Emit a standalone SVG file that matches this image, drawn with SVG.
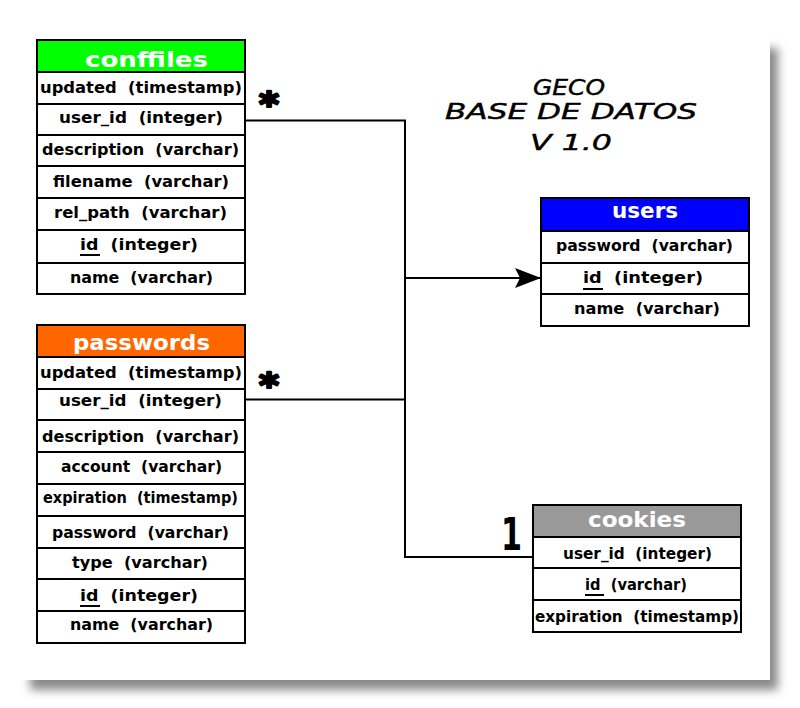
<svg xmlns="http://www.w3.org/2000/svg" width="800" height="708" viewBox="0 0 800 708" xml:space="preserve">
<style>
text{white-space:pre}
.box{fill:#fff;stroke:#000;stroke-width:2}
.sep{stroke:#000;stroke-width:2}
.t{font-family:"DejaVu Sans","Liberation Sans",sans-serif;font-weight:bold;font-size:16px;fill:#000}
.h{font-family:"DejaVu Sans","Liberation Sans",sans-serif;font-weight:bold;font-size:22px;fill:#fff}
.ul{stroke:#000;stroke-width:2}
.title{font-family:"DejaVu Sans","Liberation Sans",sans-serif;font-style:italic;font-size:21px;fill:#000;stroke:#000;stroke-width:0.4}
.conn{fill:none;stroke:#000;stroke-width:2}
.card{font-family:"DejaVu Sans","Liberation Sans",sans-serif;font-weight:bold;fill:#000}
.star{stroke:#000;stroke-width:2.5;stroke-linejoin:round}
</style>
<defs>
<filter id="sh" x="-10%" y="-10%" width="120%" height="120%"><feGaussianBlur stdDeviation="5"/></filter>
<marker id="arr" markerUnits="userSpaceOnUse" viewBox="0 0 26 20" refX="26" refY="10" markerWidth="26" markerHeight="20" orient="auto"><path d="M0,0 L26,10 L0,20 L5,10 Z" fill="#000"/></marker>
</defs>
<rect width="800" height="708" fill="#fff"/>
<rect x="30" y="48" width="748" height="642" fill="#8a8a8a" filter="url(#sh)"/>
<rect x="0" y="0" width="770" height="680" fill="#fff"/>

<g id="title">
<text class="title" x="533" y="95" textLength="72" lengthAdjust="spacingAndGlyphs">GECO</text>
<text class="title" x="445" y="119" textLength="252" lengthAdjust="spacingAndGlyphs">BASE DE DATOS</text>
<text class="title" x="530" y="150" textLength="82" lengthAdjust="spacingAndGlyphs">V 1.0</text>
</g>

<g id="connectors">
<path class="conn" d="M245,120.5 H405 V557 H533"/>
<path class="conn" d="M245,399.5 H405"/>
<path class="conn" d="M405,278 H541" marker-end="url(#arr)"/>
<text class="card star" x="259" y="116" font-size="34" textLength="20" lengthAdjust="spacingAndGlyphs">*</text>
<text class="card star" x="259" y="397" font-size="34" textLength="20" lengthAdjust="spacingAndGlyphs">*</text>
<text class="card" x="501" y="550" font-size="44" textLength="21" lengthAdjust="spacingAndGlyphs">1</text>
</g>

<g id="conffiles">
<rect x="37" y="40" width="208" height="32" fill="#00ff00" stroke="#000" stroke-width="2"/>
<rect class="box" x="37" y="72" width="208" height="222"/>
<path class="sep" d="M37,104H245M37,135H245M37,166H245M37,198H245M37,230H245M37,263H245"/>
<text class="h" x="85" y="67" textLength="123" lengthAdjust="spacingAndGlyphs">conffiles</text>
<text class="t" x="40" y="93" textLength="202" lengthAdjust="spacingAndGlyphs">updated  (timestamp)</text>
<text class="t" x="59" y="123" textLength="164" lengthAdjust="spacingAndGlyphs">user_id  (integer)</text>
<text class="t" x="42" y="155" textLength="197" lengthAdjust="spacingAndGlyphs">description  (varchar)</text>
<text class="t" x="53" y="187" textLength="176" lengthAdjust="spacingAndGlyphs">filename  (varchar)</text>
<text class="t" x="54" y="218" textLength="173" lengthAdjust="spacingAndGlyphs">rel_path  (varchar)</text>
<text class="t" x="80" y="250" textLength="118" lengthAdjust="spacingAndGlyphs">id  (integer)</text>
<line class="ul" x1="80" y1="255" x2="100" y2="255"/>
<text class="t" x="70" y="283" textLength="143" lengthAdjust="spacingAndGlyphs">name  (varchar)</text>
</g>

<g id="passwords">
<rect x="37" y="325" width="208" height="32" fill="#ff6600" stroke="#000" stroke-width="2"/>
<rect class="box" x="37" y="357" width="208" height="286"/>
<path class="sep" d="M37,389H245M37,420H245M37,452H245M37,484H245M37,516H245M37,548H245M37,579H245M37,611H245"/>
<text class="h" x="73" y="350" textLength="137" lengthAdjust="spacingAndGlyphs">passwords</text>
<text class="t" x="40" y="378" textLength="202" lengthAdjust="spacingAndGlyphs">updated  (timestamp)</text>
<text class="t" x="59" y="406" textLength="163" lengthAdjust="spacingAndGlyphs">user_id  (integer)</text>
<text class="t" x="42" y="442" textLength="197" lengthAdjust="spacingAndGlyphs">description  (varchar)</text>
<text class="t" x="61" y="472" textLength="161" lengthAdjust="spacingAndGlyphs">account  (varchar)</text>
<text class="t" x="43" y="503" textLength="195" lengthAdjust="spacingAndGlyphs">expiration  (timestamp)</text>
<text class="t" x="52" y="538" textLength="177" lengthAdjust="spacingAndGlyphs">password  (varchar)</text>
<text class="t" x="72" y="568" textLength="136" lengthAdjust="spacingAndGlyphs">type  (varchar)</text>
<text class="t" x="80" y="601" textLength="118" lengthAdjust="spacingAndGlyphs">id  (integer)</text>
<line class="ul" x1="80" y1="606" x2="100" y2="606"/>
<text class="t" x="70" y="630" textLength="143" lengthAdjust="spacingAndGlyphs">name  (varchar)</text>
</g>

<g id="users">
<rect x="541" y="198" width="208" height="33" fill="#0000ff" stroke="#000" stroke-width="2"/>
<rect class="box" x="541" y="231" width="208" height="95"/>
<path class="sep" d="M541,263H749M541,294H749"/>
<text class="h" x="612" y="218" textLength="66" lengthAdjust="spacingAndGlyphs">users</text>
<text class="t" x="556" y="251" textLength="177" lengthAdjust="spacingAndGlyphs">password  (varchar)</text>
<text class="t" x="583" y="283" textLength="120" lengthAdjust="spacingAndGlyphs">id  (integer)</text>
<line class="ul" x1="583" y1="289" x2="603" y2="289"/>
<text class="t" x="574" y="314" textLength="146" lengthAdjust="spacingAndGlyphs">name  (varchar)</text>
</g>

<g id="cookies">
<rect x="533" y="505" width="208" height="32" fill="#999999" stroke="#000" stroke-width="2"/>
<rect class="box" x="533" y="537" width="208" height="95"/>
<path class="sep" d="M533,568H741M533,600H741"/>
<text class="h" x="588" y="527" textLength="98" lengthAdjust="spacingAndGlyphs">cookies</text>
<text class="t" x="563" y="559" textLength="149" lengthAdjust="spacingAndGlyphs">user_id  (integer)</text>
<text class="t" x="585" y="590" textLength="102" lengthAdjust="spacingAndGlyphs">id  (varchar)</text>
<line class="ul" x1="585" y1="595" x2="604" y2="595"/>
<text class="t" x="535" y="622" textLength="204" lengthAdjust="spacingAndGlyphs">expiration  (timestamp)</text>
</g>
</svg>
